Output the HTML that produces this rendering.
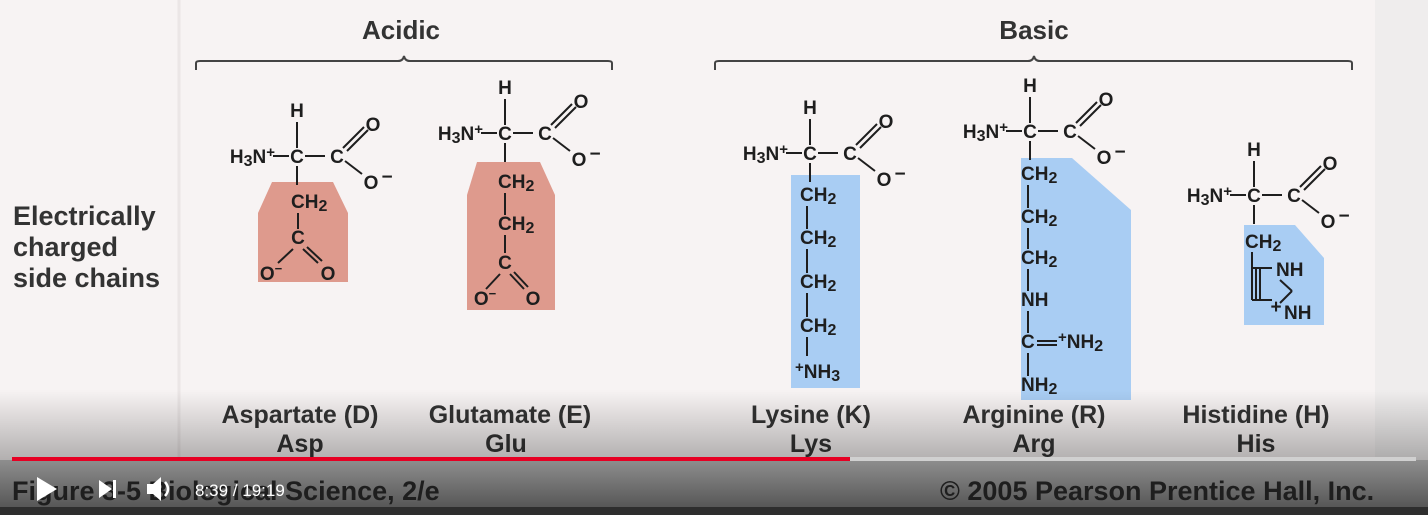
<!DOCTYPE html>
<html><head><meta charset="utf-8"><style>
html,body{margin:0;padding:0;width:1428px;height:515px;overflow:hidden;background:#f7f3f3}
svg{display:block}
text{font-family:"Liberation Sans",sans-serif;font-weight:bold}
.c{font-size:19px;fill:#1e1e1e}
.l{font-size:25px;fill:#333}
.b{stroke:#1e1e1e;stroke-width:2;fill:none}
</style></head><body>
<svg width="1428" height="515" viewBox="0 0 1428 515">
<defs>
<linearGradient id="fade" x1="0" y1="0" x2="0" y2="1">
<stop offset="0" stop-color="#000" stop-opacity="0"/>
<stop offset="1" stop-color="#000" stop-opacity="0.28"/>
</linearGradient>
<linearGradient id="bar" x1="0" y1="0" x2="0" y2="1">
<stop offset="0" stop-color="#8e8e8e"/>
<stop offset="1" stop-color="#4e4e4e"/>
</linearGradient>
</defs>
<rect x="0" y="0" width="1428" height="515" fill="#f7f3f3"/>
<rect x="1375" y="0" width="53" height="460" fill="#efeded"/>
<line x1="179" y1="0" x2="179" y2="460" stroke="#ebe6e6" stroke-width="3"/>

<text x="401" y="39" text-anchor="middle" class="l" style="font-size:26px">Acidic</text>
<path class="b" d="M196,70 L196,63 Q196,61 200,61 L398,61 Q403,61 404,56 Q405,61 410,61 L608,61 Q612,61 612,63 L612,70" style="stroke:#444"/>
<text x="1034" y="39" text-anchor="middle" class="l" style="font-size:26px">Basic</text>
<path class="b" d="M715,70 L715,63 Q715,61 719,61 L1028,61 Q1033,61 1034,56 Q1035,61 1040,61 L1348,61 Q1352,61 1352,63 L1352,70" style="stroke:#444"/>

<text class="l" style="font-size:27px;fill:#333">
<tspan x="13" y="225">Electrically</tspan><tspan x="13" y="256">charged</tspan><tspan x="13" y="287">side chains</tspan></text>

<polygon points="272,182 333,182 348,213 348,282 258,282 258,213" fill="#d98a7a" opacity="0.85"/>
<polygon points="477,162 540,162 555,195 555,310 467,310 467,195" fill="#d98a7a" opacity="0.85"/>
<rect x="791" y="175" width="69" height="213" fill="#a9cdf3"/>
<polygon points="1021,158 1072,158 1131,210 1131,400 1021,400" fill="#a9cdf3"/>
<polygon points="1244,225 1295,225 1324,258 1324,325 1244,325" fill="#a9cdf3"/>

<g id="mols"></g>

<g>
<text x="300" y="423" text-anchor="middle" class="l">Aspartate (D)</text><text x="300" y="452" text-anchor="middle" class="l">Asp</text>
<text x="510" y="423" text-anchor="middle" class="l">Glutamate (E)</text><text x="506" y="452" text-anchor="middle" class="l">Glu</text>
<text x="811" y="423" text-anchor="middle" class="l">Lysine (K)</text><text x="811" y="452" text-anchor="middle" class="l">Lys</text>
<text x="1034" y="423" text-anchor="middle" class="l">Arginine (R)</text><text x="1034" y="452" text-anchor="middle" class="l">Arg</text>
<text x="1256" y="423" text-anchor="middle" class="l">Histidine (H)</text><text x="1256" y="452" text-anchor="middle" class="l">His</text>
</g>

<rect x="0" y="390" width="1428" height="70" fill="url(#fade)"/>
<rect x="0" y="460" width="1428" height="55" fill="url(#bar)"/>
<rect x="0" y="507" width="1428" height="8" fill="#2e2e2e"/>
<text x="12" y="500" style="font-size:27px;fill:#1e1e1e">Figure 3-5 Biological Science, 2/e</text>
<text x="940" y="500" style="font-size:27px;fill:#1e1e1e">© 2005 Pearson Prentice Hall, Inc.</text>
<rect x="12" y="457" width="1404" height="4" fill="#d0d0d0"/>
<rect x="12" y="457" width="838" height="4" fill="#e60023"/>
<polygon points="37,477 37,501 57,489" fill="#fff"/>
<g><polygon points="99,480 99,498 112,489" fill="#fff"/><rect x="113" y="480" width="3" height="18" fill="#fff"/></g>
<g><polygon points="147,484 153,484 161,477 161,501 153,494 147,494" fill="#fff"/><path d="M165,482 Q171,489 165,496" stroke="#fff" stroke-width="2.5" fill="none"/></g>
<text x="195" y="496" style="font-size:17px;font-weight:normal;fill:#fff">8:39 / 19:19</text>
</svg>
<script>
const g=document.getElementById('mols');
const NS='http://www.w3.org/2000/svg';
function t(x,y,s,anchor,name){const e=document.createElementNS(NS,'text');e.setAttribute('x',x);e.setAttribute('y',y);e.setAttribute('class','c');if(anchor)e.setAttribute('text-anchor',anchor);


e.innerHTML=s;g.appendChild(e);return e;}
function ln(x1,y1,x2,y2){const e=document.createElementNS(NS,'line');e.setAttribute('x1',x1);e.setAttribute('y1',y1);e.setAttribute('x2',x2);e.setAttribute('y2',y2);e.setAttribute('class','b');


g.appendChild(e);}
const S2='<tspan dy="3" font-size="16">2</tspan>';
const S3='<tspan dy="3" font-size="16">3</tspan>';
function backbone(cx,cy){
 t(cx,cy-46,'H','middle');ln(cx,cy-41,cx,cy-15);
 t(cx-22,cy,'H'+S3+'<tspan dy="-3">N</tspan><tspan dy="-6" font-size="15">+</tspan>','end');
 ln(cx-24,cy-7,cx-8,cy-7);t(cx,cy,'C','middle');ln(cx+8,cy-7,cx+28,cy-7);t(cx+40,cy,'C','middle');
 ln(cx+46,cy-15,cx+67,cy-36);ln(cx+50,cy-12,cx+71,cy-33);t(cx+76,cy-32,'O','middle');
 ln(cx+48,cy-2,cx+65,cy+11);t(cx+74,cy+26,'O','middle');t(cx+90,cy+20,'−','middle');
 ln(cx,cy+3,cx,cy+22);
}
function chain(x,ys,labels){for(let i=0;i<labels.length;i++){t(x,ys[i],labels[i],'start');if(i<labels.length-1)ln(x+7,ys[i]+5,x+7,ys[i+1]-15);}}
// Aspartate
backbone(297,163);
t(291,208,'CH'+S2);ln(298,213,298,229);t(298,244,'C','middle');
ln(293,249,278,263);ln(303,249,318,263);ln(307,247,322,261);
t(271,280,'O<tspan dy="-7" font-size="13">−</tspan>','middle');t(328,280,'O','middle');
// Glutamate
backbone(505,140);
chain(498,[188,230],['CH'+S2,'CH'+S2]);ln(505,235,505,253);t(505,269,'C','middle');
ln(500,274,486,289);ln(510,274,524,289);ln(514,272,528,287);
t(485,305,'O<tspan dy="-7" font-size="13">−</tspan>','middle');t(533,305,'O','middle');
// Lysine
backbone(810,160);
chain(800,[201,244,288,332],['CH'+S2,'CH'+S2,'CH'+S2,'CH'+S2]);ln(807,337,807,356);
t(795,378,'<tspan dy="-6" font-size="15">+</tspan><tspan dy="6">NH</tspan>'+S3);
// Arginine
backbone(1030,138);
chain(1021,[180,223,264,306,348,391],['CH'+S2,'CH'+S2,'CH'+S2,'NH','C','NH'+S2]);
ln(1037,341,1057,341);ln(1037,345,1057,345);
t(1058,348,'<tspan dy="-6" font-size="15">+</tspan><tspan dy="6">NH</tspan>'+S2);
// Histidine
backbone(1254,202);
t(1245,248,'CH'+S2);ln(1252,252,1252,300);
ln(1256,268,1256,300);ln(1260,268,1260,300);
ln(1252,268,1272,268);ln(1252,300,1272,300);
t(1276,276,'NH');t(1284,319,'NH');t(1276,313,'+','middle');
ln(1280,280,1292,291);ln(1292,291,1280,303);
</script>
</body></html>
